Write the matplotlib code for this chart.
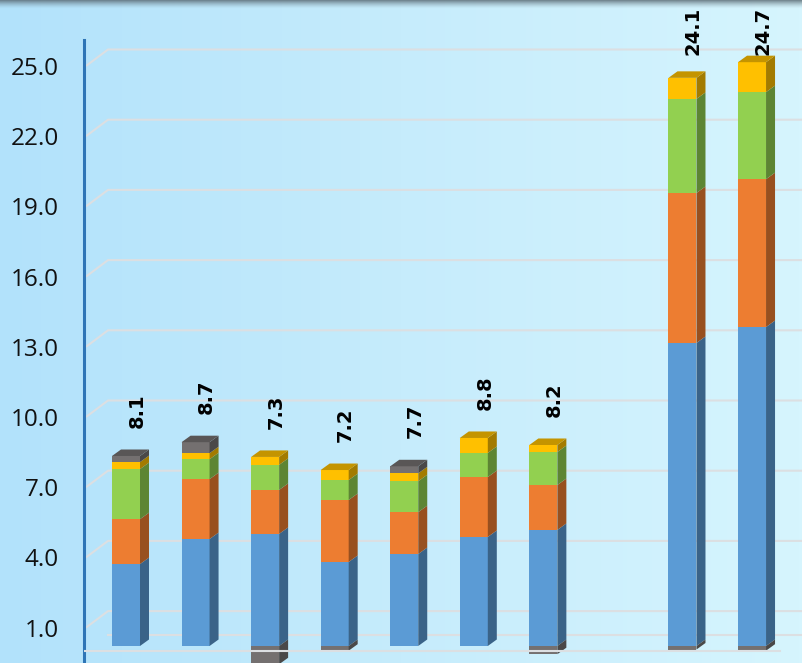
import numpy as np
import matplotlib
matplotlib.use("Agg")
import matplotlib.pyplot as plt
from matplotlib.patches import Polygon
from matplotlib.transforms import ScaledTranslation
from matplotlib.colors import to_rgb, LinearSegmentedColormap

# data (slot 7 is an empty gap)
positions = [0, 1, 2, 3, 4, 5, 6, 8, 9]
blue = [3.50, 4.57, 4.79, 3.59, 3.93, 4.66, 4.96, 12.95, 13.63]
orange = [1.92, 2.56, 1.88, 2.65, 1.79, 2.56, 1.92, 6.41, 6.32]
green = [2.14, 0.85, 1.07, 0.85, 1.32, 1.03, 1.41, 4.02, 3.72]
yellow = [0.30, 0.26, 0.34, 0.43, 0.34, 0.64, 0.30, 0.90, 1.28]
gray = [0.26, 0.47, -0.78, -0.20, 0.30, 0.00, -0.35, -0.15, -0.20]
totals = [8.1, 8.7, 7.3, 7.2, 7.7, 8.8, 8.2, 24.1, 24.7]
ticks = [1, 4, 7, 10, 13, 16, 19, 22, 25]

series = [
    (blue, "#5b9bd5"),
    (orange, "#ed7d31"),
    (green, "#92d050"),
    (yellow, "#ffc000"),
    (gray, "#747070"),
]


def shade(c, f):
    r, g, b = to_rgb(c)
    return (r * f, g * f, b * f)


W, H = 802, 663
fig = plt.figure(figsize=(W / 100, H / 100), dpi=100)

# background gradient + dark band along the top edge
bg = fig.add_axes([0, 0, 1, 1], zorder=0)
cmap = LinearSegmentedColormap.from_list("bg", ["#b2e2fb", "#c6ecfc", "#d6f5fe"])
bg.imshow(np.linspace(0, 1, 256).reshape(1, -1), aspect="auto", cmap=cmap,
          extent=[0, 1, 0, 1])
band = np.zeros((20, 1, 4))
band[..., :3] = to_rgb("#55646d")
band[:, 0, 3] = np.linspace(0.85, 0, 20) ** 1.5
bg.imshow(band, aspect="auto", extent=[0, 1, 1 - 9 / H, 1])
bg.set_xlim(0, 1)
bg.set_ylim(0, 1)
bg.axis("off")

# main axes: data coords = front plane of the 3d box
px_x, px_y = 69.56, 23.4
left_px, top_px = 84, 40
ax = fig.add_axes([left_px / W, 0, 1 - left_px / W, 1 - top_px / H], zorder=1)
ax.patch.set_alpha(0)
x0 = (left_px - 119) / px_x
x1 = (W - 119) / px_x
y0 = -12 / px_y
y1 = (651 - top_px) / px_y

# back wall gridlines
back_dx, back_dy = 22 / px_x, 16.5 / px_y
for t in ticks:
    ax.plot([x0 + 2 / px_x, x0 + 2 / px_x + back_dx, x1], [t, t + back_dy, t + back_dy],
            color="#dcdfe2", lw=1.5, zorder=2, solid_capstyle="butt")
ax.plot([x0 + 2 / px_x + back_dx, x1], [back_dy, back_dy], color="#dcdfe2", lw=1.5, zorder=2)

# stacked pseudo-3d bars
bar_tr = ax.transData + ScaledTranslation(0.07, 0.05, fig.dpi_scale_trans)
bw = 28 / px_x
ddx, ddy = 9 / px_x, 6.5 / px_y
n = len(positions)
pos_base = np.zeros(n)
neg_base = np.zeros(n)
top_color = [None] * n
for vals, color in series:
    vals = np.array(vals)
    bottoms = np.where(vals >= 0, pos_base, neg_base)
    bars = ax.bar(positions, vals, width=bw, bottom=bottoms, color=color,
                  linewidth=0, zorder=3)
    for p in bars:
        p.set_transform(bar_tr)
    for i, (x, b, v) in enumerate(zip(positions, bottoms, vals)):
        if v == 0:
            continue
        xr = x + bw / 2
        ax.add_patch(Polygon([(xr, b), (xr + ddx, b + ddy), (xr + ddx, b + v + ddy), (xr, b + v)],
                             closed=True, facecolor=shade(color, 0.64), lw=0,
                             transform=bar_tr, zorder=3))
        if v > 0:
            top_color[i] = color
    pos_base += np.where(vals > 0, vals, 0)
    neg_base += np.where(vals < 0, vals, 0)

for x, top, c in zip(positions, pos_base, top_color):
    xl, xr = x - bw / 2, x + bw / 2
    ax.add_patch(Polygon([(xl, top), (xl + ddx, top + ddy), (xr + ddx, top + ddy), (xr, top)],
                         closed=True, facecolor=shade(c, 0.77), lw=0,
                         transform=bar_tr, zorder=3))

# front floor edge
ax.plot([x0, (780 - 119) / px_x], [0, 0], color="#dcdfe2", lw=1.5, zorder=5)

# value labels (pushed down near the top so they stay inside)
label_tr = ax.transData + ScaledTranslation(0.18, 0.33, fig.dpi_scale_trans)
label_y = np.minimum(pos_base, y1 - 2.05)
for x, ly, lab in zip(positions, label_y, totals):
    ax.text(x, ly, f"{lab:.1f}", rotation=90, ha="center", va="bottom",
            fontsize=14, fontweight="bold", color="black", transform=label_tr,
            family="DejaVu Sans")

ax.set_xlim(x0, x1)
ax.set_ylim(y0, y1)
ax.set_yticks(ticks)
ax.set_yticklabels([f"{t:.1f}" for t in ticks], fontsize=17.5, family="Open Sans",
                   color="#111111")
ax.tick_params(axis="y", length=0, pad=18)
ax.set_xticks([])
for s in ["top", "right", "bottom"]:
    ax.spines[s].set_visible(False)
ax.spines["left"].set_color("#2e75b6")
ax.spines["left"].set_linewidth(2.2)

fig.savefig("out.png", dpi=100)
